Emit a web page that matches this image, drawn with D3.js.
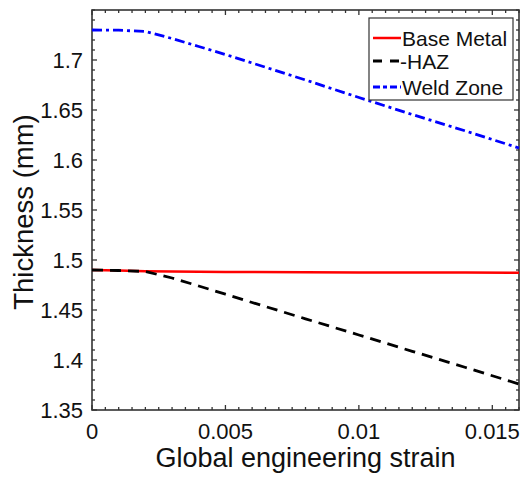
<!DOCTYPE html>
<html>
<head>
<meta charset="utf-8">
<script src="https://cdn.jsdelivr.net/npm/d3@7"></script>
<style>
  html, body { margin: 0; padding: 0; background: #fff; }
  svg { display: block; }
  text { font-family: "Liberation Sans", Arial, sans-serif; fill: #111; }
</style>
</head>
<body>
<svg id="chart" width="526" height="479"></svg>
<script>
// Thickness vs global engineering strain
const strain      = [0, 0.001, 0.002, 0.003, 0.004, 0.005, 0.006, 0.008, 0.010, 0.012, 0.014, 0.016];
const baseMetal   = [1.490, 1.4895, 1.4888, 1.4885, 1.4882, 1.4880, 1.4879, 1.4877, 1.4876, 1.4875, 1.4874, 1.4873];
const haz         = [1.490, 1.4895, 1.4885, 1.4820, 1.4740, 1.4658, 1.4575, 1.4412, 1.4250, 1.4087, 1.3925, 1.3760];
const weldZone    = [1.730, 1.7298, 1.7285, 1.7215, 1.7135, 1.7055, 1.6970, 1.6800, 1.6625, 1.6455, 1.6290, 1.6120];

const xTicks = [0, 0.005, 0.01, 0.015];
const yTicks = [1.35, 1.4, 1.45, 1.5, 1.55, 1.6, 1.65, 1.7];
const seriesNames = ["Base Metal", "-HAZ", "Weld Zone"];

const svg = d3.select("#chart");
const plotL = 92, plotR = 519, plotT = 10, plotB = 410;

const x = d3.scaleLinear().domain([0, 0.016]).range([plotL, plotR]);
const y = d3.scaleLinear().domain([1.35, 1.75]).range([plotB, plotT]);

const axisColor = "#333";
const xMinor = d3.range(0, 0.01601, 0.0005);
const yMinor = d3.range(1.35, 1.7501, 0.01);

// inward ticks on all four sides
const tg = svg.append("g").attr("stroke", axisColor).attr("stroke-width", 1.3);
xMinor.forEach(v => {
  const major = xTicks.some(t => Math.abs(t - v) < 1e-9);
  const len = major ? 5 : 3;
  const px = x(v);
  tg.append("line").attr("x1", px).attr("x2", px).attr("y1", plotB).attr("y2", plotB - len);
  tg.append("line").attr("x1", px).attr("x2", px).attr("y1", plotT).attr("y2", plotT + len);
});
yMinor.forEach(v => {
  const major = yTicks.some(t => Math.abs(t - v) < 1e-9);
  const len = major ? 5 : 3;
  const py = y(v);
  tg.append("line").attr("y1", py).attr("y2", py).attr("x1", plotL).attr("x2", plotL + len);
  tg.append("line").attr("y1", py).attr("y2", py).attr("x1", plotR).attr("x2", plotR - len);
});

// frame
svg.append("rect")
  .attr("x", plotL).attr("y", plotT)
  .attr("width", plotR - plotL).attr("height", plotB - plotT)
  .attr("fill", "none").attr("stroke", axisColor).attr("stroke-width", 1.6);

// tick labels
svg.append("g").selectAll("text").data(xTicks).join("text")
  .attr("x", d => x(d)).attr("y", 439)
  .attr("text-anchor", "middle").attr("font-size", 22)
  .text(d => d3.format("~g")(d));

svg.append("g").selectAll("text").data(yTicks).join("text")
  .attr("x", 83).attr("y", d => y(d) + 8)
  .attr("text-anchor", "end").attr("font-size", 22)
  .text(d => d3.format("~g")(d));

// axis titles
svg.append("text")
  .attr("x", (plotL + plotR) / 2).attr("y", 467)
  .attr("text-anchor", "middle").attr("font-size", 27)
  .text("Global engineering strain");

svg.append("text")
  .attr("transform", `translate(33,212) rotate(-90)`)
  .attr("text-anchor", "middle").attr("font-size", 27.5)
  .text("Thickness (mm)");

// series
const line = d3.line().x((d, i) => x(strain[i])).y(d => y(d));
const styles = [
  { data: baseMetal, color: "#ff0000", dash: null, width: 2.5 },
  { data: haz,       color: "#000000", dash: "11,7", width: 2.8 },
  { data: weldZone,  color: "#0000ff", dash: "10,4,3,4", width: 2.8 }
];
styles.forEach(s => {
  svg.append("path").datum(s.data)
    .attr("d", line)
    .attr("fill", "none")
    .attr("stroke", s.color)
    .attr("stroke-width", s.width)
    .attr("stroke-dasharray", s.dash);
});

// legend
const lg = svg.append("g");
lg.append("rect").attr("x", 369).attr("y", 18).attr("width", 144).attr("height", 82)
  .attr("fill", "#fff").attr("stroke", axisColor).attr("stroke-width", 1.2);
const rows = [38, 61, 87];
styles.forEach((s, i) => {
  lg.append("line")
    .attr("x1", 373).attr("x2", 401).attr("y1", rows[i]).attr("y2", rows[i])
    .attr("stroke", s.color).attr("stroke-width", s.width)
    .attr("stroke-dasharray", i === 1 ? "9,8" : (i === 2 ? "7,3,4,3" : null));
  lg.append("text")
    .attr("x", i === 1 ? 400 : 402).attr("y", rows[i] + 8)
    .attr("font-size", 21)
    .text(seriesNames[i]);
});
</script>
</body>
</html>
